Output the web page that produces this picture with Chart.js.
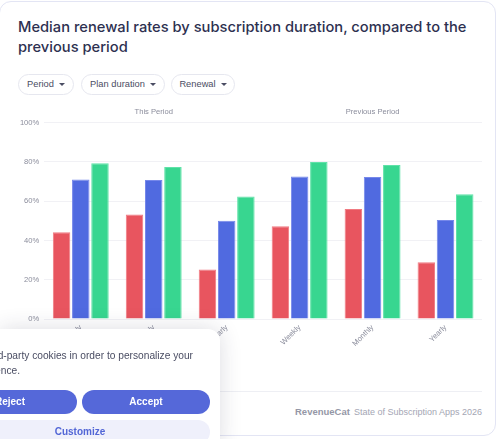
<!DOCTYPE html>
<html>
<head>
<meta charset="utf-8">
<script src="https://cdn.jsdelivr.net/npm/chart.js@4"></script>
<style>
  html,body{margin:0;padding:0;background:#fff;width:500px;height:439px;overflow:hidden;font-family:"Liberation Sans",Arial,sans-serif;}
  .card{position:absolute;left:-1px;top:1px;width:497px;height:435px;border:1px solid #e3e5f4;border-radius:12px;background:#fff;box-sizing:border-box;}
  .title{position:absolute;left:18px;top:18px;width:470px;font-family:Inter,"Noto Sans",sans-serif;font-size:14.7px;line-height:19.5px;font-weight:500;color:#2d3050;}
  .pill{position:absolute;top:74px;height:21px;box-sizing:border-box;border:1px solid #e6e7ef;border-radius:11px;font-size:9.3px;color:#4a4d63;line-height:19px;text-align:center;}
  .pill:after{content:"";display:inline-block;margin-left:5px;vertical-align:middle;border-left:3px solid transparent;border-right:3px solid transparent;border-top:3px solid #4a4d63;}
  #wrap{position:absolute;left:0;top:100px;width:494px;height:290px;}
  .rule{position:absolute;left:18px;top:391px;width:464px;height:1px;background:#eeeff4;}
  .foot{position:absolute;right:18px;top:406px;font-size:9px;color:#a4a6b4;white-space:nowrap;}
  .foot b{font-weight:700;color:#9597a6;font-size:9.5px;margin-right:4px;}
  .banner{position:absolute;left:0;top:329px;width:220px;height:120px;background:#fff;border-top-right-radius:12px;box-shadow:0 0 22px rgba(40,40,70,0.16);overflow:hidden;}
  .bl{position:absolute;white-space:nowrap;text-align:right;font-size:10.2px;line-height:12px;color:#4a4d63;}
  .btn{position:absolute;height:24px;border-radius:12px;background:#5568d9;color:#fff;font-weight:700;font-size:10px;line-height:24px;text-align:center;}
  .btn2{background:#eff0fb;color:#5266d6;}
</style>
</head>
<body>
<div class="card"></div>
<div class="title">Median renewal rates by subscription duration, compared to the previous period</div>
<div class="pill" style="left:18px;width:56px;">Period</div>
<div class="pill" style="left:81px;width:84px;">Plan duration</div>
<div class="pill" style="left:171px;width:64px;">Renewal</div>
<div id="wrap"><canvas id="c"></canvas></div>
<div class="rule"></div>
<div class="foot"><b>RevenueCat</b>State of Subscription Apps 2026</div>
<div class="banner">
  <div class="bl" style="right:27px;top:21px;">We use third-party cookies in order to personalize your</div>
  <div class="bl" style="right:200px;top:36px;">experience.</div>
  <div class="btn" style="left:-57px;width:134px;top:61px;">Reject</div>
  <div class="btn" style="left:82px;width:128px;top:61px;">Accept</div>
  <div class="btn btn2" style="left:-50px;width:260px;top:91px;">Customize</div>
</div>
<script>
const categories = ["Weekly", "Monthly", "Yearly", "Weekly", "Monthly", "Yearly"];
const periodLabels = ["This Period", "Previous Period"];
const seriesNames = ["1st renewal", "2nd renewal", "3rd renewal"];
const firstRenewal = [44.2, 53.2, 25.2, 47.3, 56.1, 28.9];
const secondRenewal = [71.1, 70.8, 50.0, 72.6, 72.4, 50.4];
const thirdRenewal = [79.4, 77.4, 62.4, 80.0, 78.4, 63.6];
const yTicks = [0, 20, 40, 60, 80, 100];

const tickColor = "#8b8d9c";
const tickFont = {family: "'Liberation Sans', Arial, sans-serif", size: 7.6};

new Chart(document.getElementById("c"), {
  type: "bar",
  data: {
    labels: categories,
    datasets: [
      {label: seriesNames[0], data: firstRenewal, backgroundColor: "#e8555f", borderColor: "#f07a82", borderWidth: 1, xAxisID: "x"},
      {label: seriesNames[1], data: secondRenewal, backgroundColor: "#506ae0", borderColor: "#7688ea", borderWidth: 1, xAxisID: "x"},
      {label: seriesNames[2], data: thirdRenewal, backgroundColor: "#38d690", borderColor: "#5fe2a8", borderWidth: 1, xAxisID: "x"}
    ]
  },
  options: {
    responsive: true,
    maintainAspectRatio: false,
    animation: false,
    datasets: {bar: {categoryPercentage: 0.79, barPercentage: 0.91}},
    layout: {padding: {left: 0, right: 12, top: 0, bottom: 0}},
    plugins: {legend: {display: false}, tooltip: {enabled: false}},
    scales: {
      x: {
        type: "category",
        position: "bottom",
        grid: {display: false, drawTicks: false},
        border: {display: false},
        ticks: {color: tickColor, font: tickFont, minRotation: 45, maxRotation: 45, padding: 4},
        afterFit: s => { s.height = 71; }
      },
      xTop: {
        type: "category",
        position: "top",
        labels: periodLabels,
        grid: {display: false, drawTicks: false},
        border: {display: false},
        ticks: {color: tickColor, font: tickFont, padding: 6},
        afterFit: s => { s.height = 22.7; }
      },
      y: {
        min: 0, max: 100,
        afterBuildTicks: s => { s.ticks = yTicks.map(v => ({value: v})); },
        grid: {color: "#f1f1f5", drawTicks: false, lineWidth: 1},
        border: {display: false},
        ticks: {color: tickColor, font: tickFont, padding: 5, callback: v => v + "%"},
        afterFit: s => { s.width = 44.3; }
      }
    }
  }
});
</script>
</body>
</html>
